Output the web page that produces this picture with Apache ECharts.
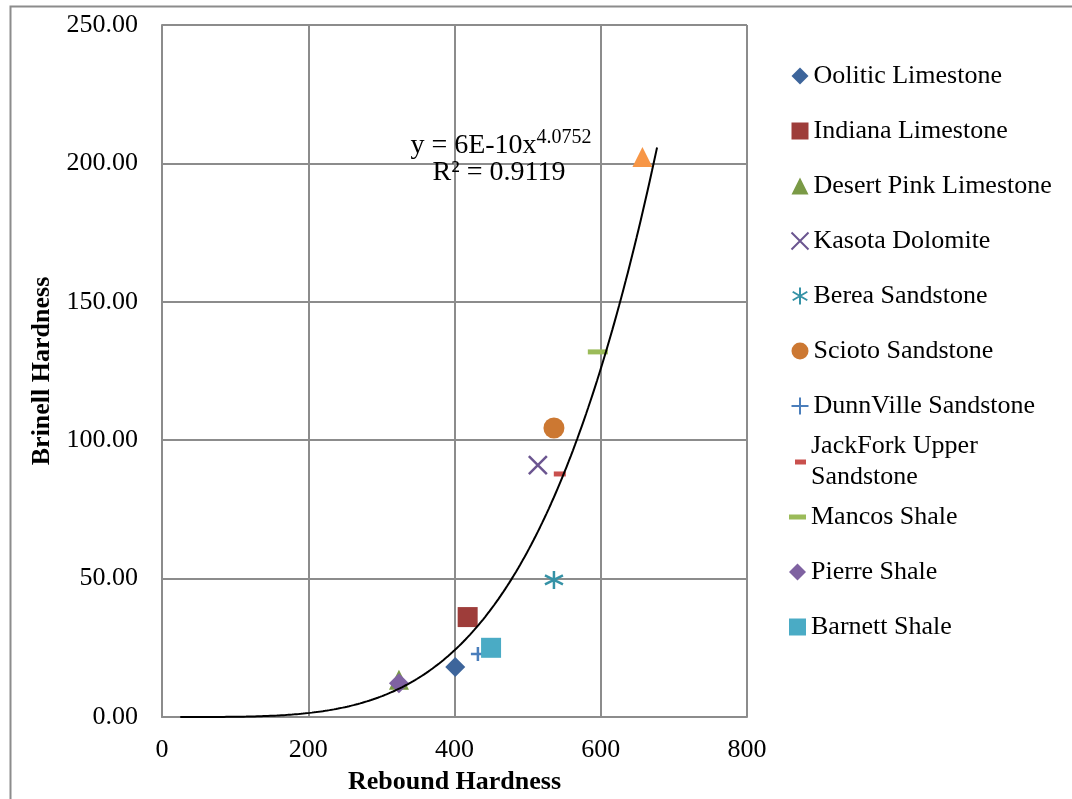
<!DOCTYPE html>
<html>
<head>
<meta charset="utf-8">
<script src="https://cdn.jsdelivr.net/npm/echarts@6/dist/echarts.min.js"></script>
<style>
  html, body { margin: 0; padding: 0; background: #fff; }
  #chart { width: 1072px; height: 799px; }
</style>
</head>
<body>
<div id="chart"></div>
<script>
// 数据
var seriesNames = ['Oolitic Limestone', 'Indiana Limestone', 'Desert Pink Limestone', 'Kasota Dolomite',
    'Berea Sandstone', 'Scioto Sandstone', 'DunnVille Sandstone', 'JackFork Upper Sandstone',
    'Mancos Shale', 'Pierre Shale', 'Barnett Shale', 'Series12'];
var reboundValues = [401, 418, 324, 514, 536, 536, 432, 544, 596, 324, 450, 657];
var brinellValues = [18.1, 36.1, 13.5, 91, 49.5, 104.4, 22.8, 87.8, 131.9, 12.2, 25, 202.3];
var xTicks = [0, 200, 400, 600, 800];
var yTicks = [0, 50, 100, 150, 200, 250];

// 趋势线 y = 6E-10 x^4.0752 (图中标注)
var trendCoef = 6e-10;
var trendPow = 4.0752;
var trendFrom = 25;
var trendTo = 677;

var FONT = '"Liberation Serif", "Times New Roman", serif';

var markerStyles = [
    { symbol: 'diamond', size: 20, color: '#3d659b' },
    { symbol: 'rect', size: 20, color: '#9e3d3a' },
    { symbol: 'triangle', size: 20, color: '#7a9a46' },
    { symbol: 'path://M0,0L10,10M10,0L0,10', size: 18, stroke: '#6b5590' },
    { symbol: 'path://M5,0L5,10M0.7,2.5L9.3,7.5M0.7,7.5L9.3,2.5', size: 18, stroke: '#3592a6' },
    { symbol: 'circle', size: 21, color: '#cc7832' },
    { symbol: 'path://M0,5L10,5M5,0L5,10', size: 14, stroke: '#4a7ebb' },
    { symbol: 'rect', size: [12, 5], color: '#c9504d' },
    { symbol: 'rect', size: [20, 5], color: '#9bbb59' },
    { symbol: 'diamond', size: 20, color: '#7f62a1' },
    { symbol: 'rect', size: 20, color: '#4aabc5' },
    { symbol: 'triangle', size: 20, color: '#f79646' }
];

var series = seriesNames.map(function (name, i) {
    var m = markerStyles[i];
    var itemStyle = m.stroke
        ? { color: 'none', borderColor: m.stroke, borderWidth: 2.5, opacity: 1 }
        : { color: m.color, borderWidth: 0, opacity: 1 };
    return {
        type: 'scatter',
        name: name,
        symbol: m.symbol,
        symbolSize: m.size,
        itemStyle: itemStyle,
        data: [[reboundValues[i], brinellValues[i]]],
        z: 2
    };
});

var trendData = [];
for (var x = trendFrom; x <= trendTo; x += 3) {
    trendData.push([x, trendCoef * Math.pow(x, trendPow)]);
}
trendData.push([trendTo, trendCoef * Math.pow(trendTo, trendPow)]);

series.push({
    type: 'line',
    name: 'trend',
    data: trendData,
    showSymbol: false,
    symbol: 'none',
    lineStyle: { color: '#000', width: 2 },
    silent: true,
    z: 5
});

var legendText = { fontFamily: FONT, fontSize: 26, color: '#000', lineHeight: 31 };

// 图例分几段, 以便 JackFork 两行文字时图标对齐第一行
function makeLegend(left, top, names, w, h, extra) {
    var lg = {
        orient: 'vertical', left: left, top: top, padding: 0,
        itemWidth: w, itemHeight: h, itemGap: 24,
        data: names, textStyle: legendText, selectedMode: false
    };
    for (var k in extra) lg[k] = extra[k];
    return lg;
}

var option = {
    backgroundColor: '#fff',
    animation: false,
    grid: { left: 162, right: 325, top: 25, bottom: 82, containLabel: false, outerBoundsMode: 'none' },
    xAxis: {
        type: 'value', min: 0, max: 800, interval: 200,
        name: 'Rebound Hardness', nameLocation: 'middle', nameGap: 52,
        nameTextStyle: { fontFamily: FONT, fontSize: 26, fontWeight: 'bold', color: '#000' },
        axisLine: { show: true, lineStyle: { color: '#8c8c8c', width: 2 } },
        axisTick: { show: false },
        axisLabel: { fontFamily: FONT, fontSize: 26, color: '#000', margin: 20,
            formatter: function (v) { return xTicks.indexOf(v) >= 0 ? String(v) : ''; } },
        splitLine: { show: true, lineStyle: { color: '#8c8c8c', width: 2 } }
    },
    yAxis: {
        type: 'value', min: 0, max: 250, interval: 50,
        name: 'Brinell Hardness', nameLocation: 'middle', nameGap: 97,
        nameTextStyle: { fontFamily: FONT, fontSize: 26, fontWeight: 'bold', color: '#000' },
        axisLine: { show: true, lineStyle: { color: '#8c8c8c', width: 2 } },
        axisTick: { show: false },
        axisLabel: { fontFamily: FONT, fontSize: 26, color: '#000', margin: 24,
            formatter: function (v) { return yTicks.indexOf(v) >= 0 ? v.toFixed(2) : ''; } },
        splitLine: { show: true, lineStyle: { color: '#8c8c8c', width: 2 } }
    },
    legend: [
        makeLegend(789, 60.5, seriesNames.slice(0, 7), 17, 17, {}),
        makeLegend(795, 415.5, seriesNames.slice(7, 8), 11, 5, {
            icon: 'rect',
            formatter: function () { return 'JackFork Upper\nSandstone'; },
            textStyle: { fontFamily: FONT, fontSize: 26, color: '#000', lineHeight: 31, padding: [31, 0, 0, 0] }
        }),
        makeLegend(789, 501.5, seriesNames.slice(8, 9), 17, 5, { icon: 'rect' }),
        makeLegend(789, 556.5, seriesNames.slice(9, 11), 17, 17, {})
    ],
    graphic: [
        {
            type: 'rect', left: 8, top: 4, silent: true, z: -10,
            shape: { width: 1200, height: 900 },
            style: { fill: 'none', stroke: '#8c8c8c', lineWidth: 2 }
        },
        {
            type: 'text', x: 501, y: 146, silent: true, z: 10,
            style: {
                text: '{b|y = 6E-10x}{s|4.0752}',
                align: 'center', verticalAlign: 'middle',
                rich: {
                    b: { fontFamily: FONT, fontSize: 28, color: '#000' },
                    s: { fontFamily: FONT, fontSize: 20, color: '#000', verticalAlign: 'top', padding: [0, 0, 16, 0] }
                }
            }
        },
        {
            type: 'text', x: 499, y: 173, silent: true, z: 10,
            style: {
                text: 'R² = 0.9119',
                align: 'center', verticalAlign: 'middle',
                fontFamily: FONT, fontSize: 28, fill: '#000'
            }
        }
    ],
    series: series
};

var chart = echarts.init(document.getElementById('chart'));
chart.setOption(option);
</script>
</body>
</html>
